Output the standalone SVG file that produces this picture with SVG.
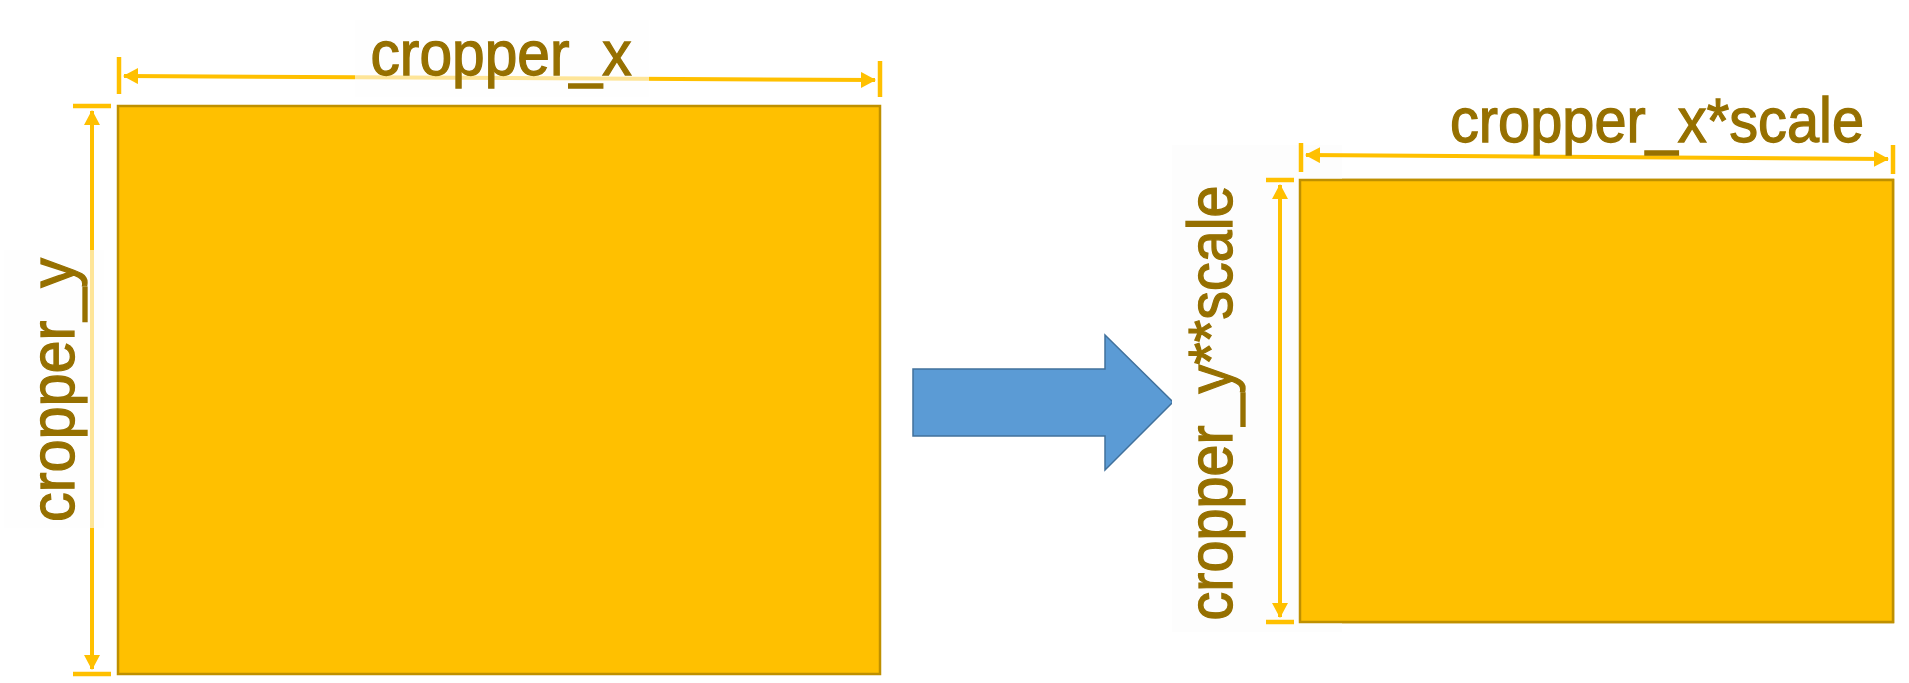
<svg xmlns="http://www.w3.org/2000/svg" width="1909" height="683" viewBox="0 0 1909 683">
<style>
.box{fill:#FFC000;stroke:#BF9000;stroke-width:2.5}
.dim{stroke:#FFC000;stroke-width:4;fill:none}
.tick{stroke:#FFC000;stroke-width:4.5}
.lbl{font-family:"Liberation Sans",Arial,sans-serif;font-size:63px;fill:#967000;stroke:#967000;stroke-width:1.3;text-anchor:middle}
</style>
<defs>
<marker id="ah" markerUnits="userSpaceOnUse" markerWidth="15" markerHeight="16" refX="14" refY="8" orient="auto-start-reverse" viewBox="0 0 15 16">
<path d="M0,0 L15,8 L0,16 z" fill="#FFC000"/>
</marker>
</defs>
<rect width="1909" height="683" fill="#FFFFFF"/>
<g id="source-rect"><rect class="box" x="118" y="106" width="762" height="568"/></g>
<g id="target-rect"><rect class="box" x="1300" y="180" width="593" height="442"/></g>
<g id="transform-arrow"><polygon points="913,369 1105,369 1105,335 1173,402 1105,470 1105,436 913,436" fill="#5B9BD5" stroke="#41719C" stroke-width="1.5"/></g>
<g id="connectors">
<line class="tick" x1="119" y1="57" x2="119" y2="94"/>
<line class="tick" x1="880" y1="61" x2="880" y2="97"/>
<line class="dim" x1="124" y1="76" x2="875" y2="80" marker-start="url(#ah)" marker-end="url(#ah)"/>
<line class="tick" x1="73" y1="106" x2="111" y2="106"/>
<line class="tick" x1="73" y1="674" x2="111" y2="674"/>
<line class="dim" x1="92" y1="111" x2="92" y2="669" marker-start="url(#ah)" marker-end="url(#ah)"/>
<rect x="1172" y="145" width="170" height="487" fill="#FDFDFD"/>
<line class="tick" x1="1301" y1="143" x2="1301" y2="172"/>
<line class="tick" x1="1893" y1="145" x2="1893" y2="174"/>
<line class="dim" x1="1306" y1="155" x2="1888" y2="159" marker-start="url(#ah)" marker-end="url(#ah)"/>
<line class="tick" x1="1266" y1="180" x2="1294" y2="180"/>
<line class="tick" x1="1266" y1="622" x2="1294" y2="622"/>
<line class="dim" x1="1280" y1="185" x2="1280" y2="617" marker-start="url(#ah)" marker-end="url(#ah)"/>
<rect x="1300" y="180" width="593" height="442" class="box"/>
</g>
<g id="label-x">
<rect x="355" y="20" width="294" height="77" fill="#FEFEFE" fill-opacity="0.6"/>
<text class="lbl" x="501" y="75" textLength="261" lengthAdjust="spacingAndGlyphs">cropper_x</text>
</g>
<g id="label-y">
<rect x="4" y="250" width="100" height="278" fill="#FEFEFE" fill-opacity="0.6"/>
<text class="lbl" transform="translate(74,390) rotate(-90)" x="0" y="0" textLength="264" lengthAdjust="spacingAndGlyphs">cropper_y</text>
</g>
<g id="label-xs">
<text class="lbl" x="1657" y="142" textLength="414" lengthAdjust="spacingAndGlyphs">cropper_x*scale</text>
</g>
<g id="label-ys">
<text class="lbl" transform="translate(1232,403) rotate(-90)" x="0" y="0" textLength="435" lengthAdjust="spacingAndGlyphs">cropper_y**scale</text>
</g>
</svg>
